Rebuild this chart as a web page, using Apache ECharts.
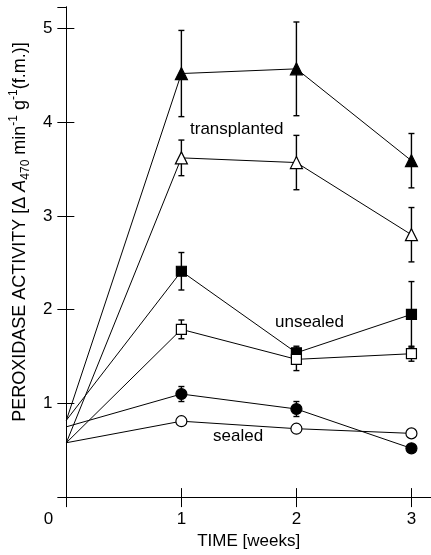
<!DOCTYPE html>
<html>
<head>
<meta charset="utf-8">
<script src="https://cdn.jsdelivr.net/npm/echarts@6/dist/echarts.min.js"></script>
<style>html,body{margin:0;padding:0;background:#fff}#c{width:431px;height:555px}</style>
</head>
<body>
<div id="c"></div>
<script>
// ---- data ----
var weeks = [0, 1, 2, 3];
var xTickLabels = ['0', '1', '2', '3'];
var yTickLabels = ['1', '2', '3', '4', '5'];

var transplantedFilled = [0.82, 4.52, 4.57, 3.59];
var transplantedFilledSd = [0, 0.46, 0.50, 0.29];
var transplantedOpen = [0.58, 3.62, 3.57, 2.80];
var transplantedOpenSd = [0, 0.19, 0.29, 0.29];
var unsealedFilled = [0.82, 2.41, 1.54, 1.95];
var unsealedFilledSd = [0, 0.20, 0.07, 0.35];
var unsealedOpen = [0.58, 1.79, 1.47, 1.53];
var unsealedOpenSd = [0, 0.10, 0.12, 0.08];
var sealedFilled = [0.75, 1.10, 0.94, 0.52];
var sealedFilledSd = [0, 0.08, 0.08, 0.03];
var sealedOpen = [0.58, 0.81, 0.73, 0.68];
var sealedOpenSd = [0, 0.03, 0.03, 0.02];

var FONT = "'Liberation Sans', Arial, Helvetica, sans-serif";

function lineSeries(vals, symbol, size, filled) {
  return {
    type: 'line',
    z: 5,
    data: weeks.map(function (w, i) {
      var item = { value: [w, vals[i]] };
      if (i === 0) item.symbol = 'none';
      return item;
    }),
    symbol: symbol,
    symbolSize: size,
    showAllSymbol: true,
    lineStyle: { color: '#000', width: 1 },
    itemStyle: { color: filled ? '#000' : '#fff', borderColor: '#000', borderWidth: 1.2 },
    emphasis: { disabled: true },
    animation: false
  };
}

function errSeries(vals, sds) {
  var d = [];
  weeks.forEach(function (w, i) {
    if (sds[i] > 0) d.push([w, vals[i] - sds[i], vals[i] + sds[i]]);
  });
  return {
    type: 'custom',
    z: 3,
    data: d,
    renderItem: function (params, api) {
      var lo = api.coord([api.value(0), api.value(1)]);
      var hi = api.coord([api.value(0), api.value(2)]);
      var hw = 3;
      var st = { stroke: '#000', lineWidth: 1.4 };
      return {
        type: 'group',
        children: [
          { type: 'line', shape: { x1: lo[0], y1: lo[1], x2: hi[0], y2: hi[1] }, style: st },
          { type: 'line', shape: { x1: lo[0] - hw, y1: lo[1], x2: lo[0] + hw, y2: lo[1] }, style: st },
          { type: 'line', shape: { x1: hi[0] - hw, y1: hi[1], x2: hi[0] + hw, y2: hi[1] }, style: st }
        ]
      };
    },
    animation: false,
    silent: true
  };
}

var chart = echarts.init(document.getElementById('c'), null, { renderer: 'canvas' });
var axisLineStyle = { color: '#000', width: 1 };

chart.setOption({
  backgroundColor: '#fff',
  animation: false,
  grid: { left: 63, top: 7, right: -2, bottom: 54, containLabel: false },
  xAxis: [
    {
      type: 'value', min: 0, max: 3.17, interval: 1, position: 'bottom',
      axisLine: { lineStyle: axisLineStyle },
      axisTick: { inside: true, length: 9, lineStyle: axisLineStyle },
      splitLine: { show: false },
      axisLabel: {
        color: '#000', fontSize: 17, fontFamily: FONT, margin: 14, showMaxLabel: false,
        formatter: function (v) {
          var idx = weeks.indexOf(v);
          if (idx < 0) return '';
          return idx === 0 ? '{z|' + xTickLabels[0] + '}' : xTickLabels[idx];
        },
        rich: { z: { fontSize: 17, fontFamily: FONT, color: '#000', padding: [0, 36, 0, 0] } }
      },
      name: 'TIME [weeks]', nameLocation: 'middle', nameGap: 35,
      nameTextStyle: { color: '#000', fontSize: 17, fontFamily: FONT }
    },
    {
      type: 'value', min: 0, max: 3.17, interval: 1, position: 'top',
      axisLine: { lineStyle: axisLineStyle },
      axisTick: { inside: true, length: 10, lineStyle: axisLineStyle },
      axisLabel: { show: false }, splitLine: { show: false }
    }
  ],
  yAxis: [
    {
      type: 'value', min: 0, max: 5.23, interval: 1, position: 'left',
      axisLine: { lineStyle: axisLineStyle },
      axisTick: { inside: true, length: 8, lineStyle: axisLineStyle },
      splitLine: { show: false },
      axisLabel: {
        color: '#000', fontSize: 17, fontFamily: FONT, margin: 14, showMaxLabel: false,
        formatter: function (v) {
          var idx = v - 1;
          return (idx >= 0 && idx < yTickLabels.length && Math.round(v) === v) ? yTickLabels[idx] : '';
        }
      },
      name: '{n|PEROXIDASE ACTIVITY [Δ }{i|A}{sub|470}{n| min}{sup|-1}{n| g}{sup|-1}{n|(f.m.)]}',
      nameLocation: 'middle', nameGap: 33,
      nameTextStyle: {
        color: '#000', fontFamily: FONT, fontSize: 18,
        padding: [0, 0, 0, 40],
        rich: {
          n: { fontSize: 18, fontFamily: FONT, color: '#000', lineHeight: 24 },
          i: { fontSize: 18, fontFamily: FONT, color: '#000', fontStyle: 'italic', lineHeight: 24 },
          sub: { fontSize: 12, fontFamily: FONT, color: '#000', lineHeight: 24, verticalAlign: 'bottom' },
          sup: { fontSize: 12, fontFamily: FONT, color: '#000', lineHeight: 24, verticalAlign: 'top' }
        }
      }
    },
    {
      type: 'value', min: 0, max: 5.23, interval: 1, position: 'right',
      axisLine: { show: true, lineStyle: axisLineStyle },
      axisTick: { show: true, inside: true, length: 9, lineStyle: axisLineStyle },
      axisLabel: { show: false }, splitLine: { show: false }
    }
  ],
  graphic: [
    { type: 'text', left: 190, top: 121, style: { text: 'transplanted', font: '17px ' + FONT, fill: '#000' } },
    { type: 'text', left: 275, top: 314, style: { text: 'unsealed', font: '17px ' + FONT, fill: '#000' } },
    { type: 'text', left: 213, top: 428, style: { text: 'sealed', font: '17px ' + FONT, fill: '#000' } }
  ],
  series: [
    errSeries(transplantedFilled, transplantedFilledSd),
    errSeries(transplantedOpen, transplantedOpenSd),
    errSeries(unsealedFilled, unsealedFilledSd),
    errSeries(unsealedOpen, unsealedOpenSd),
    errSeries(sealedFilled, sealedFilledSd),
    errSeries(sealedOpen, sealedOpenSd),
    lineSeries(transplantedFilled, 'triangle', 12, true),
    lineSeries(transplantedOpen, 'triangle', 12, false),
    lineSeries(unsealedFilled, 'rect', 10, true),
    lineSeries(unsealedOpen, 'rect', 10, false),
    lineSeries(sealedFilled, 'circle', 11, true),
    lineSeries(sealedOpen, 'circle', 11, false)
  ]
});
</script>
</body>
</html>
